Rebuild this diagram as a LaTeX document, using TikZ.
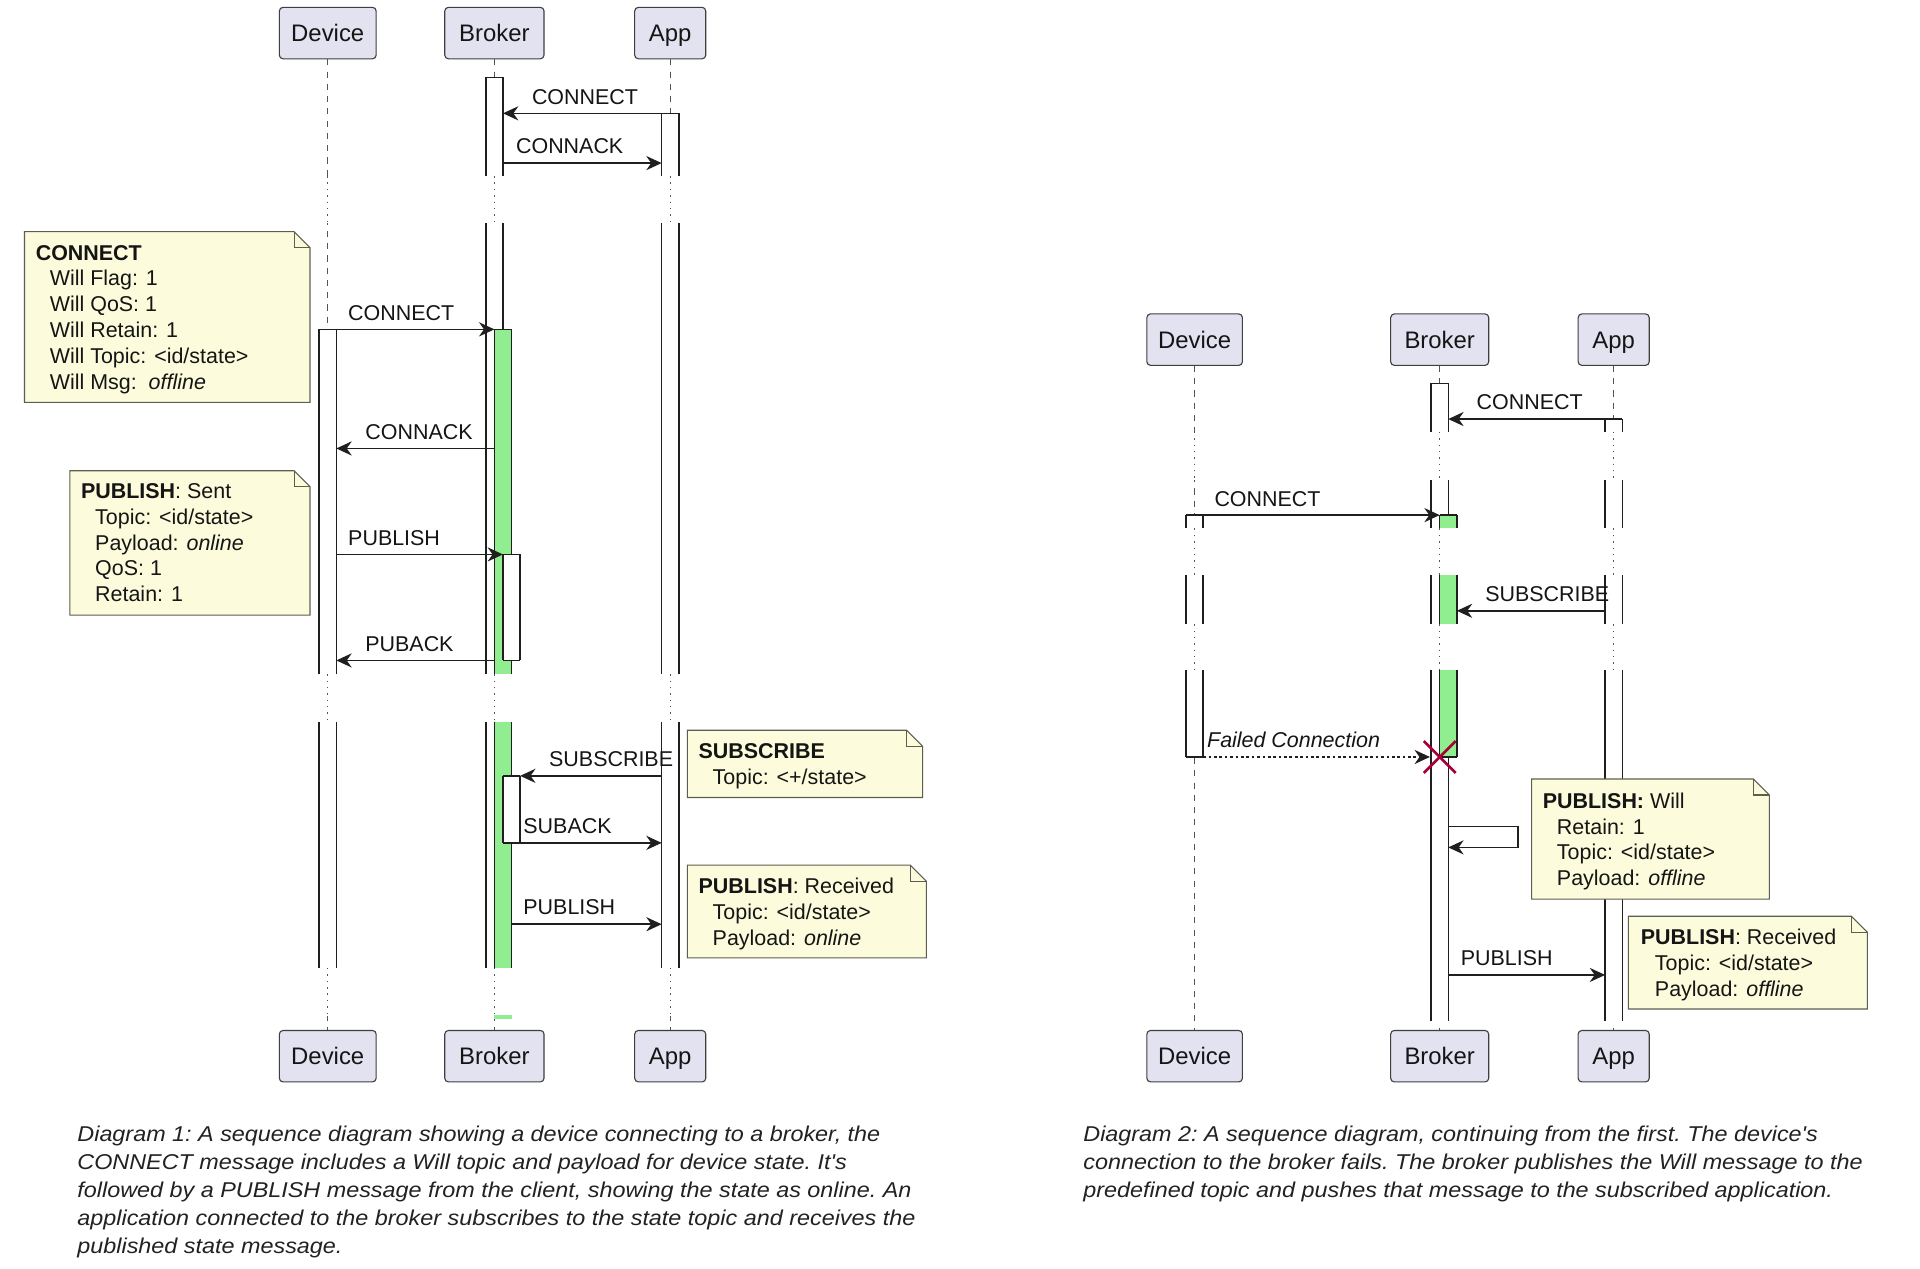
\documentclass[tikz,border=0pt]{standalone}
\usepackage{fontspec}
\setmainfont{Liberation Sans}
\newfontfamily\capfam[FakeStretch=1.09]{Liberation Sans}
\usetikzlibrary{arrows.meta,calc}
\definecolor{partfill}{HTML}{E2E2F0}
\definecolor{partborder}{HTML}{3F3F3F}
\definecolor{notefill}{HTML}{FCFCDC}
\definecolor{noteborder}{HTML}{5E5E50}
\definecolor{actgreen}{HTML}{90EE90}
\definecolor{txt}{HTML}{151515}
\definecolor{captxt}{HTML}{222222}
\definecolor{lifegray}{HTML}{555555}
\definecolor{xred}{HTML}{A80036}
\newcommand\lblfont{\fontsize{17.5}{21.1}\selectfont}
\newcommand\partfont{\fontsize{19.5}{23}\selectfont}
\newcommand\notefont{\fontsize{17.5}{21.1}\selectfont}
\newcommand\capfont{\capfam\fontsize{17.5}{22.8}\selectfont\itshape\frenchspacing}
\newcommand\ind{\hspace*{11.5pt}}
% activation segment: x1 x2 y1 y2 fill
\newcommand\actseg[5]{%
  \fill[#5] (#1,#3) rectangle (#2,#4);
  \draw[actline] (#1,#3) -- (#1,#4) (#2,#3) -- (#2,#4);}
\newcommand\hedge[3]{\draw[actline] (#1,#3) -- (#2,#3);}
% delay overlay: x y1 y2
\newcommand\delayseg[3]{%
  \fill[white] ({#1-2.5},#2) rectangle ({#1+2.5},#3);
  \draw[delay] (#1,#2) -- (#1,#3);}
% note background: x1 y1 x2 y2
\newcommand\notebg[4]{%
  \filldraw[notebox] (#1,#2) -- ({#3-13},#2) -- (#3,{#2+13}) -- (#3,#4) -- (#1,#4) -- cycle;
  \draw[notebox,fill=none] ({#3-13},#2) -- ({#3-13},{#2+13}) -- (#3,{#2+13});}
\begin{document}
\begin{tikzpicture}[x=1pt,y=-1pt,
  part/.style={draw=partborder, fill=partfill, rounded corners=3pt, line width=0.9pt,
    minimum height=42pt, inner sep=0pt, text height=16pt, text depth=2pt,
    font=\partfont, text=txt},
  life/.style={draw=lifegray, line width=0.8pt, dash pattern=on 5pt off 5pt},
  delay/.style={draw=lifegray, line width=1pt, dash pattern=on 1.2pt off 4pt},
  actline/.style={draw=black!88, line width=1.25pt},
  msgline/.style={draw=black!88, line width=1.3pt, -{Stealth[length=12.5pt,width=11.5pt,inset=4pt]}},
  lbl/.style={anchor=base west, inner sep=0pt, font=\lblfont, text=txt},
  notebox/.style={fill=notefill, draw=noteborder, line width=0.9pt},
  notetext/.style={anchor=base west, inner sep=0pt, font=\notefont, text=txt},
  captext/.style={anchor=base west, inner sep=0pt, font=\capfont, text=captxt}]
\useasboundingbox (0,0) rectangle (1567,1035);
\fill[white] (0,0) rectangle (1567,1035);

% ================= Diagram 1 =================
\node[part, minimum width=79pt] (d1t) at (267.5,27) {Device};
\node[part, minimum width=81pt] (b1t) at (403.5,27) {Broker};
\node[part, minimum width=58pt] (a1t) at (547,27) {App};
\node[part, minimum width=79pt] (d1b) at (267.5,862) {Device};
\node[part, minimum width=81pt] (b1b) at (403.5,862) {Broker};
\node[part, minimum width=58pt] (a1b) at (547,862) {App};

\draw[life] (d1t.south) -- (d1b.north);
\draw[life] (b1t.south) -- (b1b.north);
\draw[life] (a1t.south) -- (a1b.north);
\foreach \xx in {267.5,403.5,547}{
  \delayseg{\xx}{143.7}{182.3}
  \delayseg{\xx}{550.2}{589.1}
  \delayseg{\xx}{790}{829.4}
}

% activations
\actseg{260.5}{274.5}{268.8}{550.2}{white}\hedge{260.5}{274.5}{268.8}
\actseg{260.5}{274.5}{589.1}{790}{white}
\actseg{396.5}{410.5}{63.1}{143.7}{white}\hedge{396.5}{410.5}{63.1}
\actseg{396.5}{410.5}{182.3}{550.2}{white}
\actseg{396.5}{410.5}{589.1}{790}{white}
\actseg{403.5}{417.5}{268.8}{550.2}{actgreen}\hedge{403.5}{417.5}{268.8}
\actseg{403.5}{417.5}{589.1}{790}{actgreen}
\fill[actgreen] (403.5,828) rectangle (417.5,831.5);
\actseg{410.5}{424.5}{452.5}{539}{white}\hedge{410.5}{424.5}{452.5}\hedge{410.5}{424.5}{539}
\actseg{410.5}{424.5}{633.2}{687.9}{white}\hedge{410.5}{424.5}{633.2}\hedge{410.5}{424.5}{687.9}
\actseg{540}{554}{92.5}{143.7}{white}\hedge{540}{554}{92.5}
\actseg{540}{554}{182.3}{550.2}{white}
\actseg{540}{554}{589.1}{790}{white}

% messages
\coordinate (m1s) at (540,92.5);   \coordinate (m1e) at (410.5,92.5);
\coordinate (m2s) at (410.5,133.1); \coordinate (m2e) at (540,133.1);
\coordinate (m3s) at (274.5,268.8); \coordinate (m3e) at (403.5,268.8);
\coordinate (m4s) at (403.5,366);  \coordinate (m4e) at (274.5,366);
\coordinate (m5s) at (274.5,452.5); \coordinate (m5e) at (410.5,452.5);
\coordinate (m6s) at (403.5,539);  \coordinate (m6e) at (274.5,539);
\coordinate (m7s) at (540,633.2);  \coordinate (m7e) at (424.5,633.2);
\coordinate (m8s) at (417.5,687.9); \coordinate (m8e) at (540,687.9);
\coordinate (m9s) at (417.5,754.3); \coordinate (m9e) at (540,754.3);
\foreach \m in {m1,m2,m3,m4,m5,m6,m7,m8,m9}{\draw[msgline] (\m s) -- (\m e);}
\node[lbl] (l1) at (434,84.9) {CONNECT};
\node[lbl] (l2) at (421,125.5) {CONNACK};
\node[lbl] (l3) at (284,261.2) {CONNECT};
\node[lbl] (l4) at (298,358.5) {CONNACK};
\node[lbl] (l5) at (284,445) {PUBLISH};
\node[lbl] (l6) at (298,531.5) {PUBACK};
\node[lbl] (l7) at (448,625.6) {SUBSCRIBE};
\node[lbl] (l8) at (427,680.3) {SUBACK};
\node[lbl] (l9) at (427,746.7) {PUBLISH};

% notes
\notebg{20}{189.1}{253}{328.4}
\node[notetext] (n1) at (29,212.2) {\begin{tabular}[t]{@{}l@{}}\textbf{CONNECT}\\
  \ind Will Flag: 1\\ \ind Will QoS: 1\\ \ind Will Retain: 1\\
  \ind Will Topic: <id/state>\\ \ind Will Msg:\ \ \textit{offline}\end{tabular}};
\notebg{57}{384.2}{253}{502}
\node[notetext] (n2) at (66,406.8) {\begin{tabular}[t]{@{}l@{}}\textbf{PUBLISH}: Sent\\
  \ind Topic: <id/state>\\ \ind Payload: \textit{online}\\ \ind QoS: 1\\ \ind Retain: 1\end{tabular}};
\notebg{561}{596}{753}{650.9}
\node[notetext] (n3) at (570,619) {\begin{tabular}[t]{@{}l@{}}\textbf{SUBSCRIBE}\\
  \ind Topic: <+/state>\end{tabular}};
\notebg{561}{706.1}{756}{781.8}
\node[notetext] (n4) at (570,729.3) {\begin{tabular}[t]{@{}l@{}}\textbf{PUBLISH}: Received\\
  \ind Topic: <id/state>\\ \ind Payload: \textit{online}\end{tabular}};

% ================= Diagram 2 =================
\node[part, minimum width=78pt] (d2t) at (975,277.2) {Device};
\node[part, minimum width=80pt] (b2t) at (1175,277.2) {Broker};
\node[part, minimum width=58pt] (a2t) at (1317,277.2) {App};
\node[part, minimum width=78pt] (d2b) at (975,862) {Device};
\node[part, minimum width=80pt] (b2b) at (1175,862) {Broker};
\node[part, minimum width=58pt] (a2b) at (1317,862) {App};

\draw[life] (d2t.south) -- (d2b.north);
\draw[life] (b2t.south) -- (b2b.north);
\draw[life] (a2t.south) -- (a2b.north);
\foreach \xx in {975,1175,1317}{
  \delayseg{\xx}{352.4}{391.8}
  \delayseg{\xx}{431.3}{469.4}
  \delayseg{\xx}{509.4}{547}
}

\actseg{968}{982}{420.4}{431.3}{white}\hedge{968}{982}{420.4}
\actseg{968}{982}{469.4}{509.4}{white}
\actseg{968}{982}{547}{617.8}{white}\hedge{968}{982}{617.8}
\actseg{1168}{1182}{312.9}{352.4}{white}\hedge{1168}{1182}{312.9}
\actseg{1168}{1182}{391.8}{431.3}{white}
\actseg{1168}{1182}{469.4}{509.4}{white}
\actseg{1168}{1182}{547}{833.1}{white}
\actseg{1175}{1189}{420.4}{431.3}{actgreen}\hedge{1175}{1189}{420.4}
\actseg{1175}{1189}{469.4}{509.4}{actgreen}
\actseg{1175}{1189}{547}{617.8}{actgreen}\hedge{1175}{1189}{617.8}
\actseg{1310}{1324}{342}{352.4}{white}\hedge{1310}{1324}{342}
\actseg{1310}{1324}{391.8}{431.3}{white}
\actseg{1310}{1324}{469.4}{509.4}{white}
\actseg{1310}{1324}{547}{833.1}{white}

\coordinate (k1s) at (1310,342);   \coordinate (k1e) at (1182,342);
\coordinate (k2s) at (982,420.4);  \coordinate (k2e) at (1175,420.4);
\coordinate (k3s) at (1310,498.5); \coordinate (k3e) at (1189,498.5);
\coordinate (k4s) at (982,617.8);  \coordinate (k4e) at (1167,617.8);
\coordinate (k5s) at (1182,674.6); \coordinate (k5e) at (1182,691.6);
\coordinate (k6s) at (1182,795.7); \coordinate (k6e) at (1310,795.7);
\draw[msgline] (k1s) -- (k1e);
\draw[msgline] (k2s) -- (k2e);
\draw[msgline] (k3s) -- (k3e);
\draw[msgline, dash pattern=on 2.2pt off 2.2pt] (k4s) -- (k4e);
\draw[msgline] (k5s) -- ++(57,0) |- (k5e);
\draw[msgline] (k6s) -- (k6e);
\node[lbl] (q1) at (1205,334.5) {CONNECT};
\node[lbl] (q2) at (991,413) {CONNECT};
\node[lbl] (q3) at (1212,491) {SUBSCRIBE};
\node[lbl, font=\lblfont\itshape] (q4) at (985,610.3) {Failed Connection};
\node[lbl] (q6) at (1192,788.2) {PUBLISH};

\coordinate (xk) at (1175,617.8);
\draw[xred, line width=2.2pt] ($(xk)+(-13,-13)$) -- ($(xk)+(13,13)$) ($(xk)+(-13,13)$) -- ($(xk)+(13,-13)$);

\notebg{1250}{635.8}{1444}{733.8}
\node[notetext] (n5) at (1259,659.6) {\begin{tabular}[t]{@{}l@{}}\textbf{PUBLISH:} Will\\
  \ind Retain: 1\\ \ind Topic: <id/state>\\ \ind Payload: \textit{offline}\end{tabular}};
\notebg{1329}{747.8}{1524}{823.5}
\node[notetext] (n6) at (1339,771.2) {\begin{tabular}[t]{@{}l@{}}\textbf{PUBLISH}: Received\\
  \ind Topic: <id/state>\\ \ind Payload: \textit{offline}\end{tabular}};

% captions
\node[captext] (c1) at (63,932) {\begin{tabular}[t]{@{}l@{}}Diagram 1: A sequence diagram showing a device connecting to a broker, the\\
CONNECT message includes a Will topic and payload for device state. It's\\
followed by a PUBLISH message from the client, showing the state as online. An\\
application connected to the broker subscribes to the state topic and receives the\\
published state message.\end{tabular}};
\node[captext] (c2) at (884,932) {\begin{tabular}[t]{@{}l@{}}Diagram 2: A sequence diagram, continuing from the first. The device's\\
connection to the broker fails. The broker publishes the Will message to the\\
predefined topic and pushes that message to the subscribed application.\end{tabular}};
\end{tikzpicture}
\end{document}
